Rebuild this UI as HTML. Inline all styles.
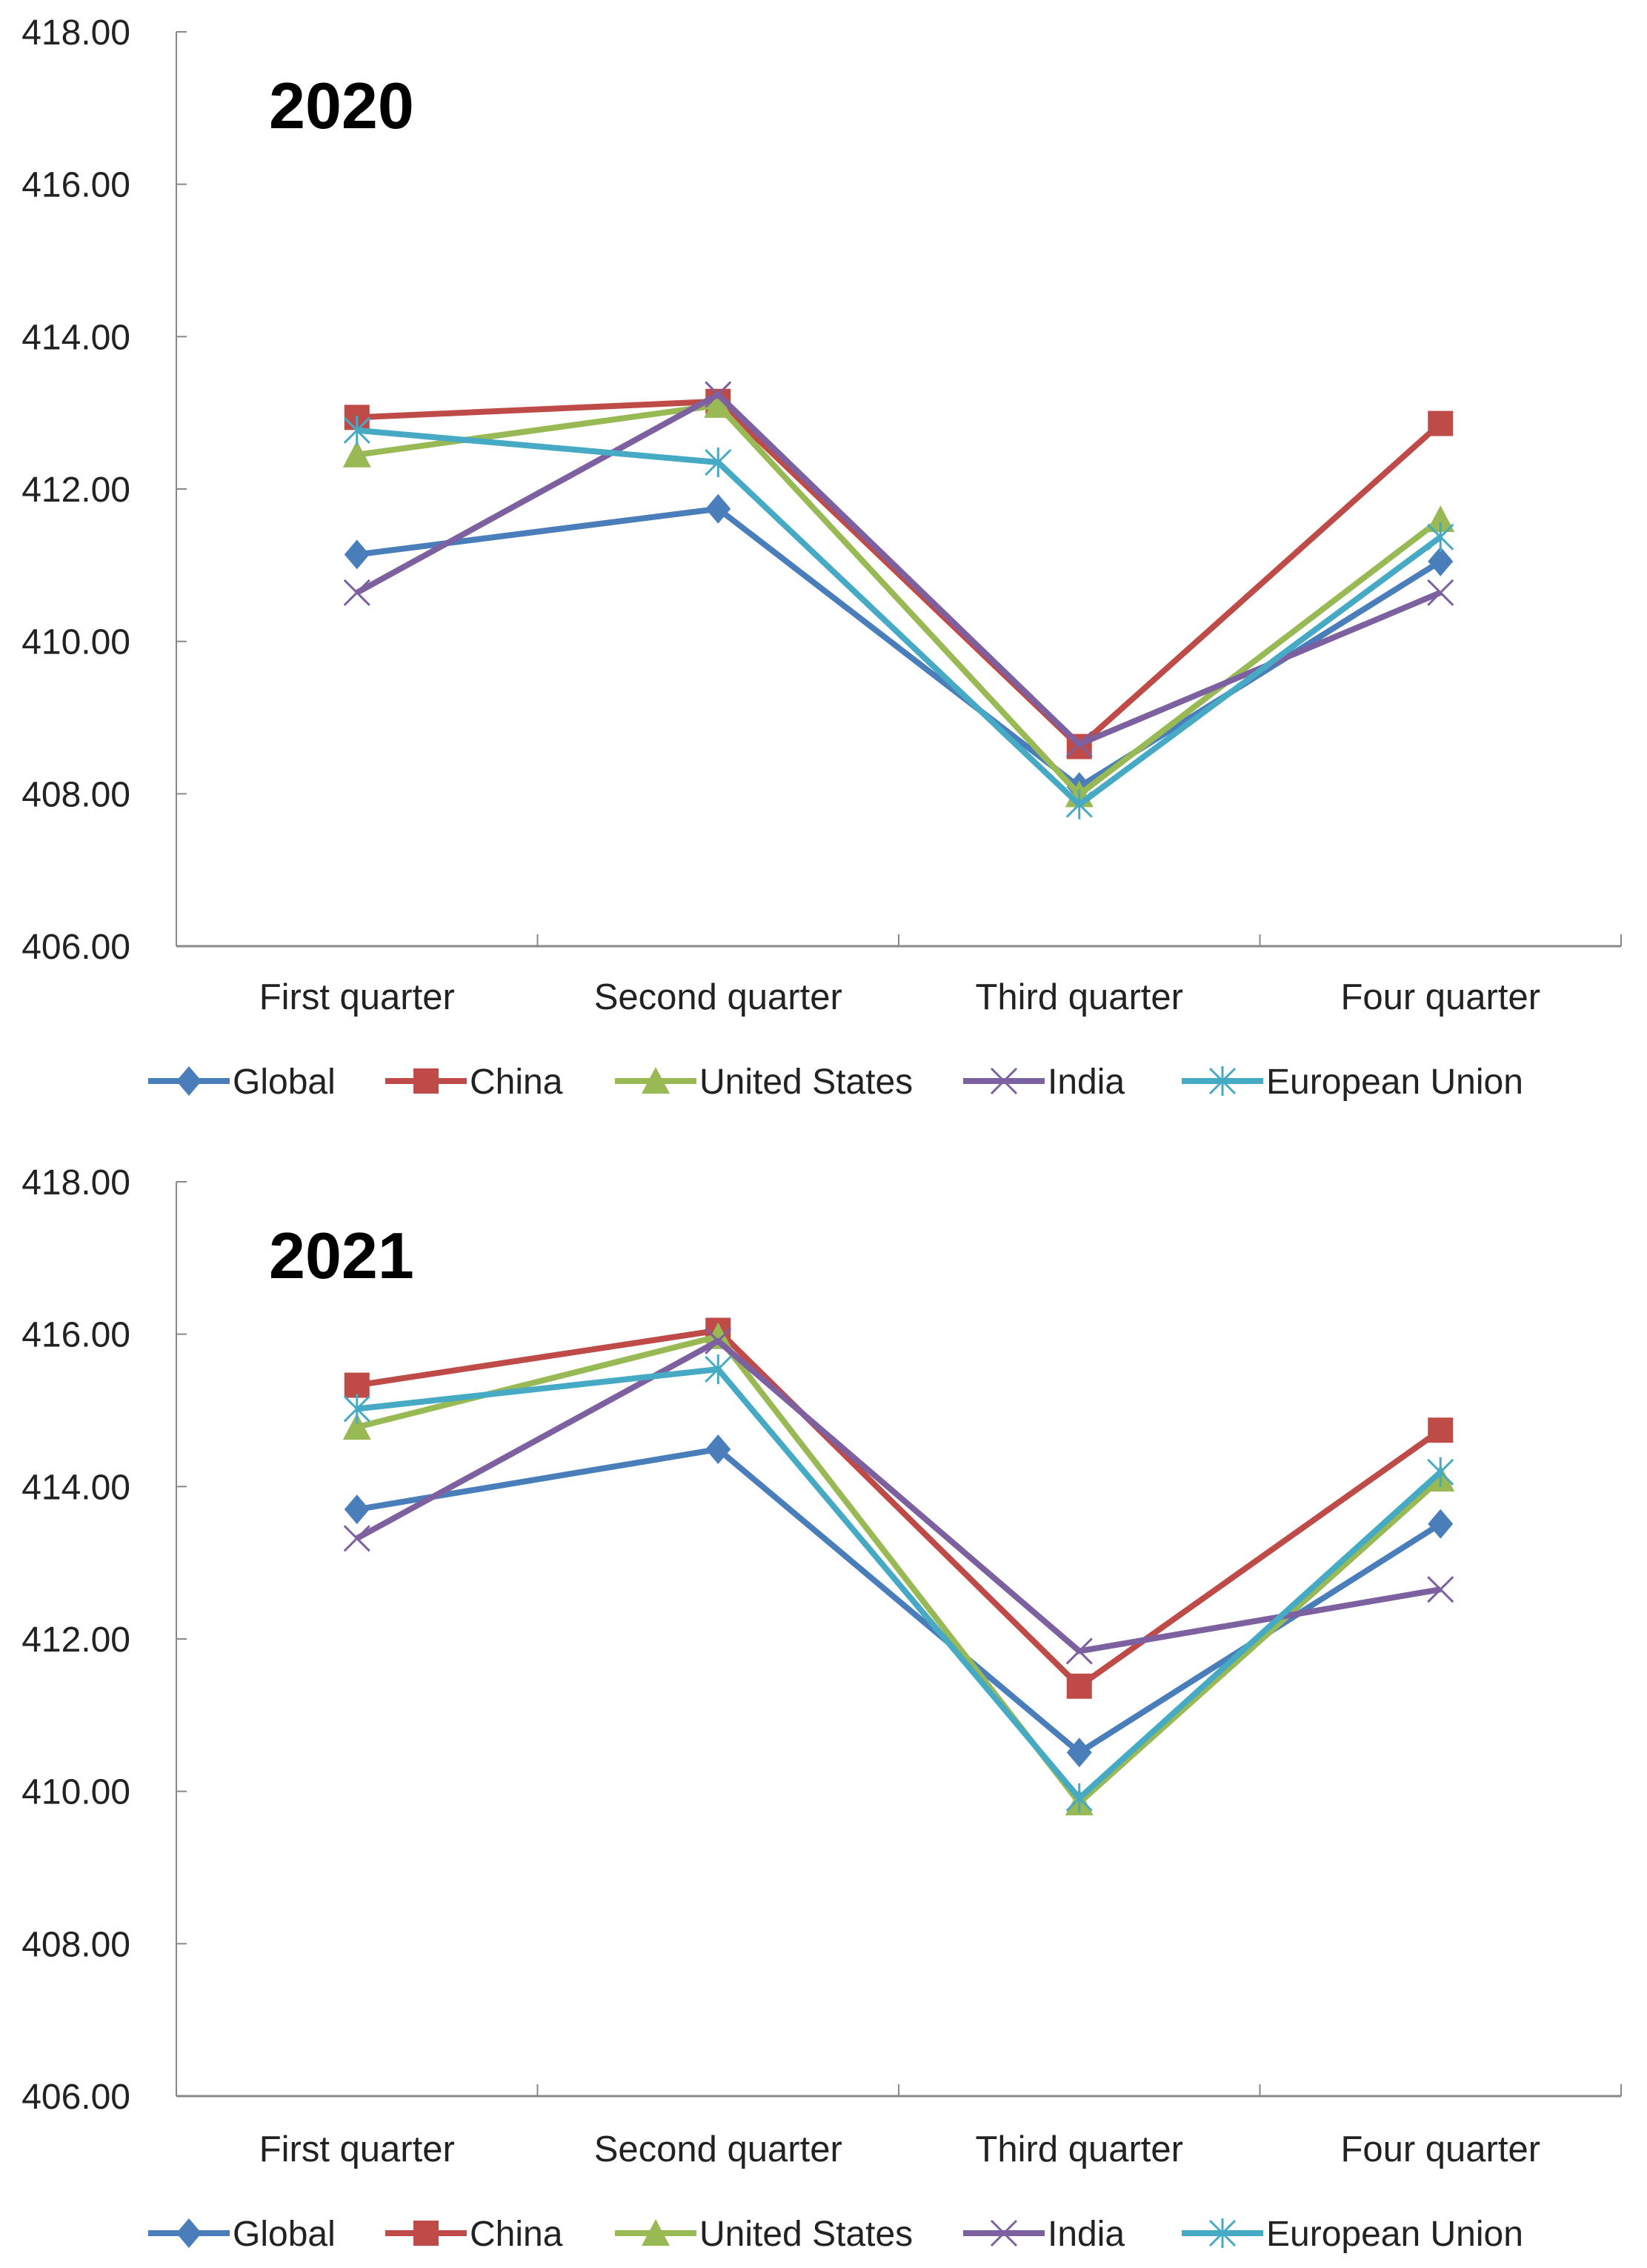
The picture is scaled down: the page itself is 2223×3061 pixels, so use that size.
<!DOCTYPE html>
<html><head><meta charset="utf-8"><style>
html,body{margin:0;padding:0;background:#fff;}
svg{display:block;font-family:"Liberation Sans",sans-serif;}
</style></head><body>
<svg id="c" width="2223" height="3061" viewBox="0 0 2223 3061"></svg>
<script>
const categories=["First quarter","Second quarter","Third quarter","Four quarter"];
const yTicks=[406,408,410,412,414,416,418];
const seriesNames=["Global","China","United States","India","European Union"];
const seriesColors=["#4a7ebb","#be4b48","#98b954","#7d60a0","#46aac5"];
const markers=["diamond","square","triangle","x","star"];
const years=["2020","2021"];
const global2020=[411.14,411.74,408.09,411.05];
const china2020=[412.94,413.15,408.62,412.86];
const us2020=[412.45,413.10,407.99,411.60];
const india2020=[410.64,413.24,408.65,410.64];
const eu2020=[412.77,412.35,407.86,411.37];
const global2021=[413.70,414.49,410.51,413.51];
const china2021=[415.33,416.05,411.38,414.74];
const us2021=[414.78,415.97,409.85,414.10];
const india2021=[413.32,415.91,411.84,412.65];
const eu2021=[415.02,415.54,409.91,414.19];
const data=[[global2020,china2020,us2020,india2020,eu2020],[global2021,china2021,us2021,india2021,eu2021]];

const NS="http://www.w3.org/2000/svg";
const svg=document.getElementById('c');
function mk(tag,attrs,parent){const e=document.createElementNS(NS,tag);for(const k in attrs)e.setAttribute(k,attrs[k]);(parent||svg).appendChild(e);return e;}
const X0=238,X1=2188,ymin=406,ymax=418;
const panels=[{top:43,bot:1277,cat:1362,leg:1459},{top:1595,bot:2829,cat:2917,leg:3014}];
panels.forEach((p,pi)=>{
  const g=mk('g',{});
  
  
  const yS=v=>p.bot-(v-ymin)/(ymax-ymin)*(p.bot-p.top);
  const bw=(X1-X0)/categories.length;
  const xS=i=>X0+bw*(i+0.5);
  const ax=mk('line',{x1:X0,y1:p.top,x2:X0,y2:p.bot,stroke:'#888','stroke-width':2},g);
  
  
  const bx=mk('line',{x1:X0,y1:p.bot,x2:X1,y2:p.bot,stroke:'#888','stroke-width':3},g);
  
  
  yTicks.forEach(t=>{
    mk('line',{x1:X0,y1:yS(t),x2:X0+14,y2:yS(t),stroke:'#888','stroke-width':2},g);
    const tl=mk('text',{x:X0-62,y:yS(t)+17,'text-anchor':'end','font-size':48,fill:'#222'},g);
    tl.textContent=t.toFixed(2);
    
    
  });
  for(let i=1;i<=categories.length;i++){mk('line',{x1:X0+bw*i,y1:p.bot,x2:X0+bw*i,y2:p.bot-16,stroke:'#888','stroke-width':2},g);}
  categories.forEach((c,i)=>{
    const t=mk('text',{x:xS(i),y:p.cat,'text-anchor':'middle','font-size':49,fill:'#222'},g);
    t.textContent=c;
    
    
  });
  const tt=mk('text',{x:363,y:p.top+130,'font-size':88,'font-weight':'bold',fill:'#000'},g);
  tt.textContent=years[pi];
  
  
  function marker(type,x,y,col,par){
    const s=17;
    if(type==='diamond')mk('polygon',{points:`${x},${y-s-3} ${x+s},${y} ${x},${y+s+3} ${x-s},${y}`,fill:col},par);
    else if(type==='square')mk('rect',{x:x-s,y:y-s,width:2*s,height:2*s,fill:col},par);
    else if(type==='triangle')mk('polygon',{points:`${x},${y-s-2} ${x+s+2},${y+s} ${x-s-2},${y+s}`,fill:col},par);
    else if(type==='x'){mk('path',{d:`M${x-s} ${y-s}L${x+s} ${y+s}M${x-s} ${y+s}L${x+s} ${y-s}`,stroke:col,'stroke-width':3},par);}
    else {mk('path',{d:`M${x-s} ${y-s}L${x+s} ${y+s}M${x-s} ${y+s}L${x+s} ${y-s}M${x} ${y-s-3}L${x} ${y+s+3}`,stroke:col,'stroke-width':3},par);}
  }
  data[pi].forEach((vals,si)=>{
    const sg=mk('g',{},g);
    
    
    const pts=vals.map((v,i)=>xS(i)+','+yS(v)).join(' ');
    mk('polyline',{points:pts,fill:'none',stroke:seriesColors[si],'stroke-width':8,'stroke-linejoin':'round'},sg);
    vals.forEach((v,i)=>marker(markers[si],xS(i),yS(v),seriesColors[si],sg));
  });
  const legX=[200,520,830,1300,1595];
  seriesNames.forEach((n,si)=>{
    const lg=mk('g',{},g);
    
    
    const lx=legX[si],ly=p.leg;
    mk('line',{x1:lx,y1:ly,x2:lx+110,y2:ly,stroke:seriesColors[si],'stroke-width':8},lg);
    marker(markers[si],lx+55,ly,seriesColors[si],lg);
    const t=mk('text',{x:lx+114,y:ly+17,'font-size':48,fill:'#222'},lg);
    t.textContent=n;
  });
});
</script>
</body></html>
